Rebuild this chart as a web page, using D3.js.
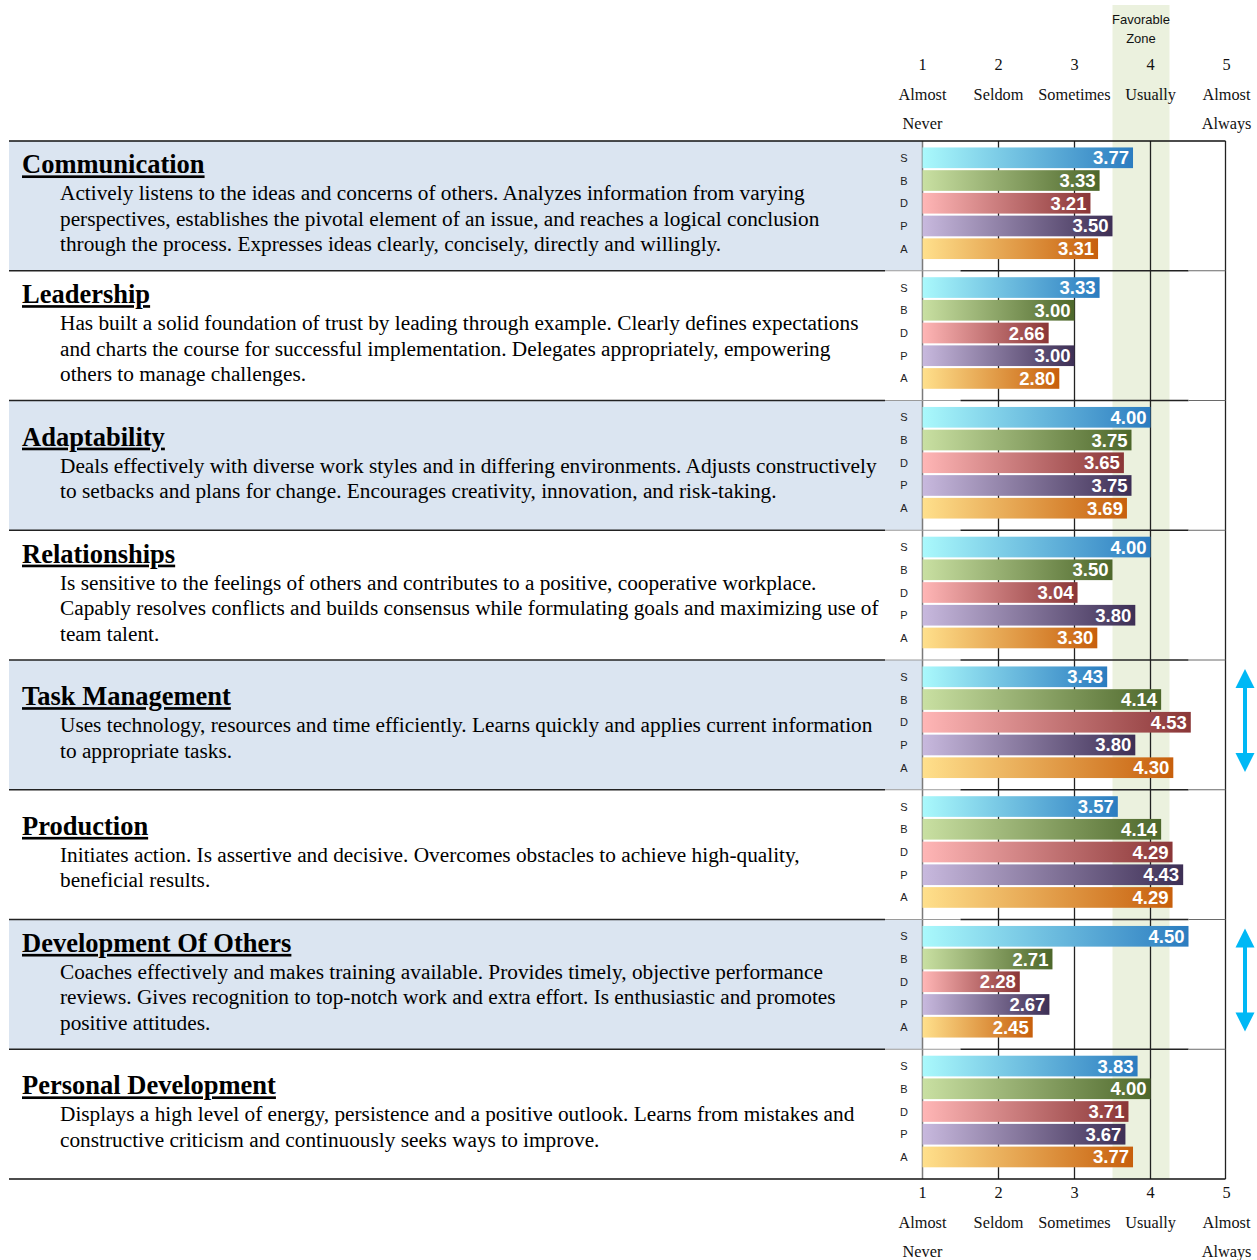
<!DOCTYPE html>
<html>
<head>
<meta charset="utf-8">
<script src="https://cdn.jsdelivr.net/npm/d3@7"></script>
<style>
  html, body { margin: 0; padding: 0; background: #fff; }
  svg { display: block; }
</style>
</head>
<body>
<svg id="chart" width="1257" height="1260"></svg>
<script>
// ---------------- DATA ----------------
const categories = ["Communication", "Leadership", "Adaptability", "Relationships",
  "Task Management", "Production", "Development Of Others", "Personal Development"];
const raters = ["S", "B", "D", "P", "A"];
const valuesS = [3.77, 3.33, 4.00, 4.00, 3.43, 3.57, 4.50, 3.83];
const valuesB = [3.33, 3.00, 3.75, 3.50, 4.14, 4.14, 2.71, 4.00];
const valuesD = [3.21, 2.66, 3.65, 3.04, 4.53, 4.29, 2.28, 3.71];
const valuesP = [3.50, 3.00, 3.75, 3.80, 3.80, 4.43, 2.67, 3.67];
const valuesA = [3.31, 2.80, 3.69, 3.30, 4.30, 4.29, 2.45, 3.77];
const descriptions = [
  ["Actively listens to the ideas and concerns of others. Analyzes information from varying",
   "perspectives, establishes the pivotal element of an issue, and reaches a logical conclusion",
   "through the process. Expresses ideas clearly, concisely, directly and willingly."],
  ["Has built a solid foundation of trust by leading through example. Clearly defines expectations",
   "and charts the course for successful implementation. Delegates appropriately, empowering",
   "others to manage challenges."],
  ["Deals effectively with diverse work styles and in differing environments. Adjusts constructively",
   "to setbacks and plans for change. Encourages creativity, innovation, and risk-taking."],
  ["Is sensitive to the feelings of others and contributes to a positive, cooperative workplace.",
   "Capably resolves conflicts and builds consensus while formulating goals and maximizing use of",
   "team talent."],
  ["Uses technology, resources and time efficiently. Learns quickly and applies current information",
   "to appropriate tasks."],
  ["Initiates action. Is assertive and decisive. Overcomes obstacles to achieve high-quality,",
   "beneficial results."],
  ["Coaches effectively and makes training available. Provides timely, objective performance",
   "reviews. Gives recognition to top-notch work and extra effort. Is enthusiastic and promotes",
   "positive attitudes."],
  ["Displays a high level of energy, persistence and a positive outlook. Learns from mistakes and",
   "constructive criticism and continuously seeks ways to improve."]
];
const flagged = ["Task Management", "Development Of Others"];
const tickValues = [1, 2, 3, 4, 5];
const tickLabels = [["Almost", "Never"], ["Seldom"], ["Sometimes"], ["Usually"], ["Almost", "Always"]];
const zoneRange = [3.5, 4.25];
const zoneLabel = ["Favorable", "Zone"];

// ---------------- LAYOUT ----------------
const seriesByRater = { S: valuesS, B: valuesB, D: valuesD, P: valuesP, A: valuesA };
const gradients = {
  S: ["#aaf9fc", "#2b7cc0"],
  B: ["#c9e0a2", "#4d672b"],
  D: ["#ffb6b6", "#8a3637"],
  P: ["#c8b9de", "#3d2f55"],
  A: ["#ffe08c", "#c75f0c"]
};
const serif = "'Liberation Serif', 'Times New Roman', serif";
const sans = "'Liberation Sans', Arial, sans-serif";

const svg = d3.select("#chart");
const defs = svg.append("defs");
raters.forEach(r => {
  const g = defs.append("linearGradient").attr("id", "grad" + r)
    .attr("x1", "0%").attr("x2", "100%").attr("y1", "0%").attr("y2", "0%");
  g.append("stop").attr("offset", "0%").attr("stop-color", gradients[r][0]);
  g.append("stop").attr("offset", "100%").attr("stop-color", gradients[r][1]);
});

const x = d3.scaleLinear().domain([1, 5]).range([922.5, 1226.5]);
const ySec = d3.scaleBand().domain(categories).range([141, 1179]);
const secH = ySec.bandwidth();
const yBar = d3.scaleBand().domain(raters).range([6, 118.5]).paddingInner(0.09).paddingOuter(0.02);

const leftX = 9, tableRight = 885, rightBorder = 1225.5;

// Section backgrounds
svg.append("g").selectAll("rect").data(categories).join("rect")
  .attr("x", leftX).attr("y", d => ySec(d))
  .attr("width", x(1) - leftX).attr("height", secH)
  .attr("fill", (d, i) => i % 2 === 0 ? "#dbe5f1" : "#ffffff");

// Favorable zone
svg.append("rect")
  .attr("x", x(zoneRange[0])).attr("y", 5)
  .attr("width", x(zoneRange[1]) - x(zoneRange[0]))
  .attr("height", 1179 - 5)
  .attr("fill", "#ebf1de");

svg.append("g").selectAll("text").data(zoneLabel).join("text")
  .attr("x", x((zoneRange[0] + zoneRange[1]) / 2))
  .attr("y", (d, i) => 24 + i * 19)
  .attr("text-anchor", "middle")
  .attr("font-family", sans).attr("font-size", 13).attr("fill", "#111")
  .text(d => d);

// Vertical grid lines
const vg = svg.append("g");
tickValues.forEach(v => {
  const xx = v === 5 ? rightBorder : x(v);
  vg.append("line")
    .attr("x1", xx).attr("x2", xx)
    .attr("y1", 141).attr("y2", 1179)
    .attr("stroke", v === 1 ? "#7a7a7a" : "#222")
    .attr("stroke-width", v === 1 ? 1.5 : 1.3);
});

// Horizontal section boundary lines
const boundaries = categories.map(c => ySec(c)).concat([ySec.range()[1]]);
const hg = svg.append("g");
boundaries.forEach((yb, i) => {
  const full = (i === 0 || i === boundaries.length - 1);
  if (full) {
    hg.append("line").attr("x1", leftX).attr("x2", rightBorder).attr("y1", yb).attr("y2", yb)
      .attr("stroke", "#111").attr("stroke-width", 1.6);
  } else {
    hg.append("line").attr("x1", leftX).attr("x2", tableRight).attr("y1", yb).attr("y2", yb)
      .attr("stroke", "#222").attr("stroke-width", 1.4);
    hg.append("line").attr("x1", tableRight).attr("x2", x(1.5)).attr("y1", yb).attr("y2", yb)
      .attr("stroke", "#9a9a9a").attr("stroke-width", 1);
    hg.append("line").attr("x1", x(1.5)).attr("x2", x(4.5)).attr("y1", yb).attr("y2", yb)
      .attr("stroke", "#222").attr("stroke-width", 1.4);
    hg.append("line").attr("x1", x(4.5)).attr("x2", rightBorder).attr("y1", yb).attr("y2", yb)
      .attr("stroke", "#6a6a6a").attr("stroke-width", 1);
  }
});

// Sections: text + bars
categories.forEach((cat, ci) => {
  const top = ySec(cat);
  const center = top + secH / 2;
  const lines = descriptions[ci];
  const k = lines.length;
  const titleY = center - 32.5 + (3 - k) * 12.75;
  const g = svg.append("g");

  g.append("text")
    .attr("x", 22).attr("y", titleY)
    .attr("font-family", serif).attr("font-weight", "bold").attr("font-size", 26.5)
    .attr("text-decoration", "underline").attr("fill", "#000")
    .text(cat);

  g.selectAll("text.desc").data(lines).join("text").attr("class", "desc")
    .attr("x", 60).attr("y", (d, i) => titleY + 27 + i * 25.5)
    .attr("font-family", serif).attr("font-size", 21.3).attr("fill", "#000")
    .text(d => d);

  // rater labels
  g.selectAll("text.rater").data(raters).join("text").attr("class", "rater")
    .attr("x", 904).attr("y", r => top + yBar(r) + yBar.bandwidth() / 2 + 4)
    .attr("text-anchor", "middle")
    .attr("font-family", sans).attr("font-size", 11).attr("fill", "#222")
    .text(r => r);

  const rows = raters.map(r => ({ r, v: seriesByRater[r][ci] }));
  g.selectAll("rect.bar").data(rows).join("rect").attr("class", "bar")
    .attr("x", x(1)).attr("y", d => top + yBar(d.r))
    .attr("width", d => x(d.v) - x(1)).attr("height", yBar.bandwidth())
    .attr("fill", d => `url(#grad${d.r})`);

  g.selectAll("text.val").data(rows).join("text").attr("class", "val")
    .attr("x", d => x(d.v) - 4)
    .attr("y", d => top + yBar(d.r) + yBar.bandwidth() / 2 + 6.5)
    .attr("text-anchor", "end")
    .attr("font-family", sans).attr("font-weight", "bold").attr("font-size", 18.5)
    .attr("fill", "#fff")
    .text(d => d.v.toFixed(2));

  if (flagged.includes(cat)) {
    const ax = 1245, y1 = top + 9, y2 = top + 112, hw = 9.5, hh = 19;
    g.append("line").attr("x1", ax).attr("x2", ax).attr("y1", y1 + hh - 2).attr("y2", y2 - hh + 2)
      .attr("stroke", "#00b8f5").attr("stroke-width", 4);
    g.append("path").attr("d", `M${ax},${y1} L${ax + hw},${y1 + hh} L${ax - hw},${y1 + hh} Z`).attr("fill", "#00b8f5");
    g.append("path").attr("d", `M${ax},${y2} L${ax + hw},${y2 - hh} L${ax - hw},${y2 - hh} Z`).attr("fill", "#00b8f5");
  }
});

// Axis labels top and bottom
function axisLabels(y0) {
  const g = svg.append("g");
  g.selectAll("text.num").data(tickValues).join("text").attr("class", "num")
    .attr("x", d => x(d)).attr("y", y0)
    .attr("text-anchor", "middle").attr("font-family", serif).attr("font-size", 16.3).attr("fill", "#111")
    .text(d => d);
  tickValues.forEach((v, i) => {
    tickLabels[i].forEach((t, j) => {
      g.append("text").attr("x", x(v)).attr("y", y0 + 30 + j * 29.5)
        .attr("text-anchor", "middle").attr("font-family", serif).attr("font-size", 16.3).attr("fill", "#111")
        .text(t);
    });
  });
}
axisLabels(69.5);
axisLabels(1197.5);
</script>
</body>
</html>
